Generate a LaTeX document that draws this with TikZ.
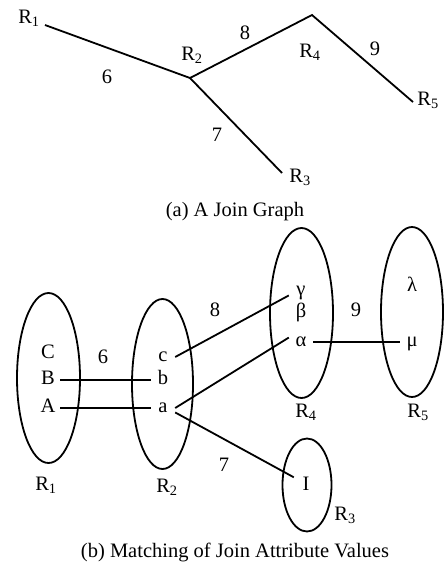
\documentclass[tikz,border=0pt]{standalone}
\usepackage{fontspec}
\setmainfont{Liberation Serif}
\usetikzlibrary{shapes.geometric}
\tikzset{
  every picture/.style={font=\rmfamily\fontsize{20.5}{24}\selectfont},
  join edge/.style={draw=black, line width=1.8pt},
  rel oval/.style={ellipse, draw=black, line width=1.8pt, inner sep=0pt},
  attr val/.style={inner sep=0pt, minimum width=24pt, text height=13pt, text depth=4pt},
  rel name/.style={inner sep=0pt}
}

\begin{document}
\begin{tikzpicture}[x=1pt,y=-1pt]
  \useasboundingbox (0,0) rectangle (445,566);
  % (a) join graph
  \coordinate (g1) at (45,25); \coordinate (g2) at (190,78); \coordinate (g3) at (282,173);
  \coordinate (g4) at (312,15); \coordinate (g5) at (413,102);
  \draw[join edge] (g1) -- (g2) -- (g4) -- (g5);
  \draw[join edge] (g2) -- (g3);
  \node[rel name] (gR1) at (29,18) {R\textsubscript{1}};
  \node[rel name] (gR2) at (192,55) {R\textsubscript{2}};
  \node[rel name] (gR3) at (300,177) {R\textsubscript{3}};
  \node[rel name] (gR4) at (310,52) {R\textsubscript{4}};
  \node[rel name] (gR5) at (428,100) {R\textsubscript{5}};
  \node (w6) at (107,77) {6};
  \node (w7) at (217,135) {7};
  \node (w8) at (245,33) {8};
  \node (w9) at (375,49) {9};
  \node (capA) at (235,212) {(a) A Join Graph};

  % (b) matching of values
  \node[rel oval, minimum width=63, minimum height=170] (o1) at (48.5,378) {};
  \node[rel oval, minimum width=61, minimum height=170] (o2) at (162.5,384) {};
  \node[rel oval, minimum width=49, minimum height=93] (o3) at (307,485) {};
  \node[rel oval, minimum width=63, minimum height=170] (o4) at (301.5,313) {};
  \node[rel oval, minimum width=62, minimum height=170] (o5) at (412,312) {};
  \node[attr val] (vC) at (48,354) {C};
  \node[attr val] (vB) at (48,380) {B};
  \node[attr val] (vA) at (48,408) {A};
  \node[attr val] (vc) at (163,357) {c};
  \node[attr val] (vb) at (163,380) {b};
  \node[attr val] (va) at (163,408) {a};
  \node[attr val] (vgam) at (301,291) {γ};
  \node[attr val] (vbet) at (301,313) {β};
  \node[attr val] (valp) at (301,342) {α};
  \node[attr val] (vlam) at (412,287) {λ};
  \node[attr val] (vmu) at (412,342) {μ};
  \node[attr val] (vI) at (306,486) {I};
  \draw[join edge] (vB.east) -- (vb.west);
  \draw[join edge] (vA.east) -- (va.west);
  \draw[join edge] (vc.east) -- (vgam.200);
  \draw[join edge] (va.east) -- (valp.160);
  \draw[join edge] (va.340) -- (vI.north west);
  \draw[join edge] (valp.east) -- (vmu.west);
  \node (m6) at (103,357) {6};
  \node (m7) at (224,465) {7};
  \node (m8) at (215,310) {8};
  \node (m9) at (356,310) {9};
  \node[rel name] (bR1) at (46,485) {R\textsubscript{1}};
  \node[rel name] (bR2) at (167,487) {R\textsubscript{2}};
  \node[rel name] (bR3) at (345,515) {R\textsubscript{3}};
  \node[rel name] (bR4) at (306,412) {R\textsubscript{4}};
  \node[rel name] (bR5) at (418,412) {R\textsubscript{5}};
  \node (capB) at (235,552) {(b) Matching of Join Attribute Values};
\end{tikzpicture}
\end{document}
